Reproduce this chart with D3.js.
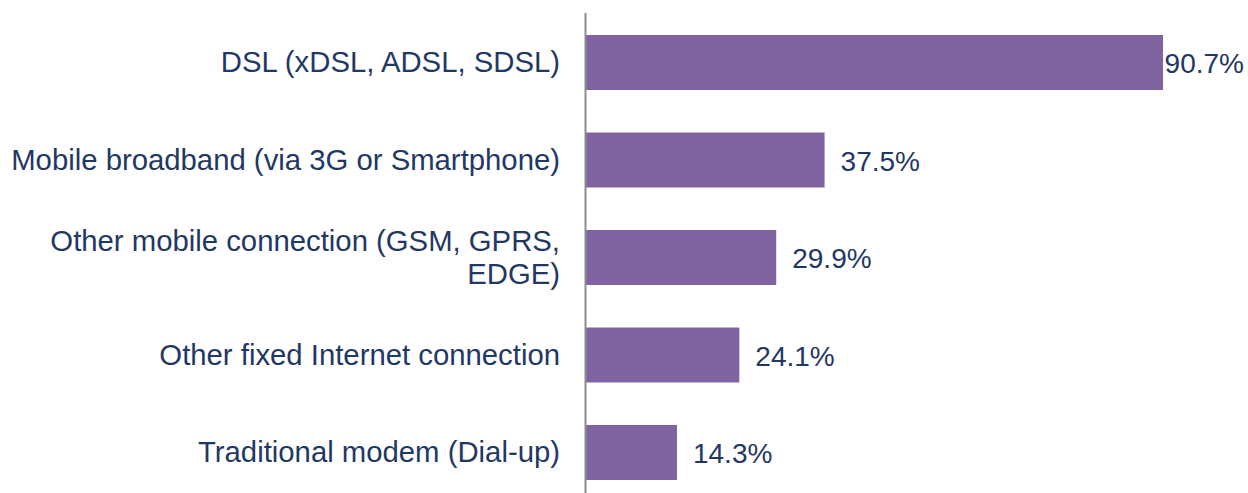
<!DOCTYPE html>
<html>
<head>
<meta charset="utf-8">
<script src="https://cdn.jsdelivr.net/npm/d3@7"></script>
<style>
  body { margin: 0; background: #fff; }
  text { font-family: "Liberation Sans", Arial, sans-serif; fill: #1f3864; }
</style>
</head>
<body>
<script>
var width = 1248,
    height = 493;

// data
var categories = [
    ["DSL (xDSL, ADSL, SDSL)"],
    ["Mobile broadband (via 3G or Smartphone)"],
    ["Other mobile connection (GSM, GPRS,", "EDGE)"],
    ["Other fixed Internet connection"],
    ["Traditional modem (Dial-up)"]
];
var values = [90.7, 37.5, 29.9, 24.1, 14.3];
var valueLabels = ["90.7%", "37.5%", "29.9%", "24.1%", "14.3%"];

var svg = d3.select("body")
    .append("svg")
    .attr("width", width)
    .attr("height", height);

var x0 = 586;
var x = d3.scaleLinear()
    .domain([0, 100])
    .range([x0, x0 + 636.2]);

var y = d3.scaleBand()
    .domain(d3.range(values.length))
    .range([13.75, 501.25])
    .paddingInner(0.436)
    .paddingOuter(0.218);

var bars = svg.append("g").attr("id", "bars");
bars.selectAll("rect")
    .data(values)
    .enter()
    .append("rect")
    .attr("x", x(0))
    .attr("y", function(d, i){ return y(i); })
    .attr("width", function(d){ return x(d) - x(0); })
    .attr("height", y.bandwidth())
    .attr("fill", "#8064a2");

// axis line
svg.append("line")
    .attr("x1", x0 - 0.5).attr("x2", x0 - 0.5)
    .attr("y1", 13).attr("y2", height)
    .attr("stroke", "#8c8c8c")
    .attr("stroke-width", 2);

// category labels
var cats = svg.append("g").attr("id", "cats");
categories.forEach(function(lines, i){
    var cy = y(i) + y.bandwidth() / 2;
    var lh = 33;
    var t = cats.append("text")
        .attr("text-anchor", "end")
        .attr("font-size", 29.3);
    lines.forEach(function(l, j){
        t.append("tspan")
            .attr("x", 560)
            .attr("y", cy + (j - (lines.length - 1) / 2) * lh)
            .attr("dy", "0.34em")
            .text(l);
    });
});

// value labels
var vals = svg.append("g").attr("id", "vals");
vals.selectAll("text")
    .data(values)
    .enter()
    .append("text")
    .attr("x", function(d){ return x(d) + 16; })
    .attr("y", function(d, i){ return y(i) + y.bandwidth() / 2; })
    .attr("dy", "0.38em")
    .attr("font-size", 28)
    .text(function(d, i){ return valueLabels[i]; })
    .each(function(){
        var w = this.getComputedTextLength();
        var xx = +d3.select(this).attr("x");
        if (xx + w > width - 4) {
            d3.select(this).attr("x", width - 4).attr("text-anchor", "end");
        }
    });
</script>
</body>
</html>
